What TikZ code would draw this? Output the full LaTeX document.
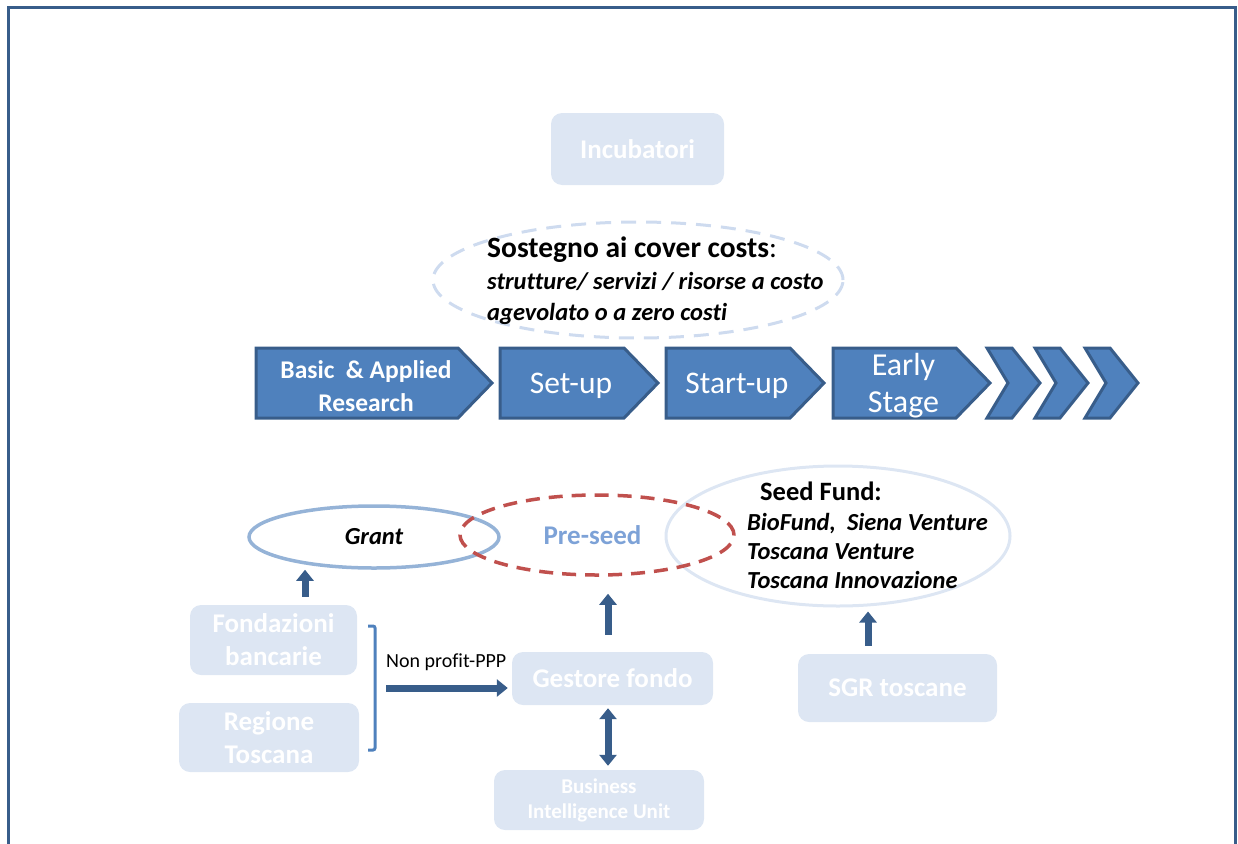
\documentclass[tikz,border=0pt]{standalone}
\usepackage{fontspec}
\setmainfont{Carlito}[Ligatures=NoCommon]
\usetikzlibrary{arrows.meta,positioning,calc,shapes.geometric}
\definecolor{stagecolor}{RGB}{79,129,189}
\definecolor{edgecolor}{RGB}{56,93,138}
\definecolor{paleblue}{RGB}{221,230,243}
\definecolor{dashblue}{RGB}{206,219,239}
\definecolor{grantcolor}{RGB}{149,179,215}
\definecolor{seedred}{RGB}{192,80,77}
\definecolor{preseedtxt}{RGB}{125,162,215}
\newcommand{\fsz}[2]{\fontsize{#1}{#2}\selectfont}
\tikzset{
  stageln/.style={fill=stagecolor, draw=edgecolor, line width=3pt, line join=miter},
  stagetxt/.style={text=white, align=center, inner sep=0pt},
  actorbox/.style={fill=paleblue, rounded corners=11pt, text=white, align=center,
    font=\bfseries\fsz{27}{33}, inner sep=0pt},
  blockarr/.style={-{Triangle[width=17pt,length=11pt]}, line width=7pt, edgecolor},
  ovalln/.style={ellipse, inner sep=0pt},
}
% one pentagon of the stage row, with its label
\newcommand{\stagebox}[5]{%
  \draw[stageln] (#1,348) -- ({#2-34},348) -- (#2,383) -- ({#2-34},418) -- (#1,418) -- cycle;
  \node[stagetxt, font=#5] (#3) at ({(#1+#2)/2-8},386) {#4};
}

\begin{document}
\begin{tikzpicture}[x=1pt,y=-1pt]
  \useasboundingbox (0,0) rectangle (1238,843);
  % Frame
  \draw[edgecolor, line width=3pt] (8,870) -- (8,8) -- (1235,8) -- (1235,870);
  % Incubators and cover costs
  \node[actorbox, minimum width=173, minimum height=72] (incub) at (637.5,149) {Incubatori};
  \node[ovalln, draw=dashblue, dash pattern=on 15pt off 10pt, line width=3pt,
    minimum width=410, minimum height=116] (coverell) at (638,280) {};
  \node[anchor=west, align=left, inner sep=0pt, font=\fsz{24.5}{31.5}] (covertxt) at (487,281)
    {{\fsz{29.5}{31.5}\textbf{Sostegno ai cover costs}:}\\
     \textbf{\textit{strutture/ servizi / risorse a costo}}\\
     \textbf{\textit{agevolato o a zero costi}}};
  % Stage row
  \stagebox{256}{492}{basic}{Basic\ \ \& Applied\\Research}{\bfseries\fsz{25.5}{33}}
  \stagebox{500}{658}{setup}{Set-up}{\fsz{31.5}{36}}
  \stagebox{666}{824}{startup}{Start-up}{\fsz{31.5}{36}}
  \stagebox{833}{990}{early}{Early\\Stage}{\fsz{32}{37}}
  \foreach \cx in {987,1035,1085}
    \draw[stageln] (\cx,348) -- ({\cx+25},348) -- ({\cx+53},383) -- ({\cx+25},418)
      -- (\cx,418) -- ({\cx+21},383) -- cycle;
  % Funding ovals
  \node[ovalln, draw=paleblue, line width=3pt, minimum width=344, minimum height=140]
    (seed) at (838,536) {};
  \node[anchor=west, align=left, inner sep=0pt, font=\bfseries\fsz{24.5}{29.3}] (seedtxt) at (747,535.5)
    {\hspace{13pt}{\fsz{26.5}{29.3}Seed Fund:}\\
     \textit{BioFund, \ Siena Venture}\\
     \textit{Toscana Venture}\\
     \textit{Toscana Innovazione}};
  \node[ovalln, draw=grantcolor, line width=3.5pt, minimum width=250, minimum height=62,
    font=\bfseries\itshape\fsz{24.5}{26}] (grant) at (374,537) {Grant};
  \node[ovalln, draw=seedred, dash pattern=on 14pt off 9pt, line width=3.5pt,
    minimum width=274, minimum height=80, text=preseedtxt,
    font=\bfseries\fsz{27}{30}] (preseed) at (597,535) {\hspace*{-9pt}Pre-seed};
  % Actors
  \node[actorbox, minimum width=167, minimum height=70] (fond) at (273.5,640) {Fondazioni\\bancarie};
  \node[actorbox, minimum width=180, minimum height=69] (regione) at (269,737.5) {Regione\\Toscana};
  \node[actorbox, minimum width=201, minimum height=53] (gestore) at (612.5,678.5) {Gestore fondo};
  \node[actorbox, minimum width=210, minimum height=60, font=\bfseries\fsz{21}{25}]
    (biu) at (599,800) {Business\\Intelligence Unit};
  \node[actorbox, minimum width=199, minimum height=68] (sgr) at (897.5,688) {SGR toscane};
  % Bracket and PPP link
  \draw[stagecolor, line width=3pt, rounded corners=2pt] (368,626) -- (375,626) -- (375,750) -- (368,750);
  \coordinate (brk) at (386,688);
  \node[anchor=south west, inner sep=0pt, font=\fsz{20}{22}] (ppp) at (386,671) {Non profit-PPP};
  \draw[blockarr] (brk) -- ([xshift=-4pt]gestore.west |- brk);
  % Arrows up to the ovals
  \draw[blockarr] ([xshift=31.5pt,yshift=8pt]fond.north) -- ([xshift=-69pt]grant.south);
  \draw[blockarr] ([xshift=-4.5pt,yshift=17pt]gestore.north) -- ([xshift=11pt,yshift=-17pt]preseed.south);
  \draw[blockarr] ([xshift=-29.5pt,yshift=8pt]sgr.north) -- ([xshift=30pt,yshift=-4pt]seed.south);
  \draw[blockarr, {Triangle[width=17pt,length=11pt]}-{Triangle[width=17pt,length=11pt]}]
    ([xshift=-4.5pt,yshift=-3pt]gestore.south) -- ([xshift=9pt,yshift=4pt]biu.north);
\end{tikzpicture}
\end{document}
